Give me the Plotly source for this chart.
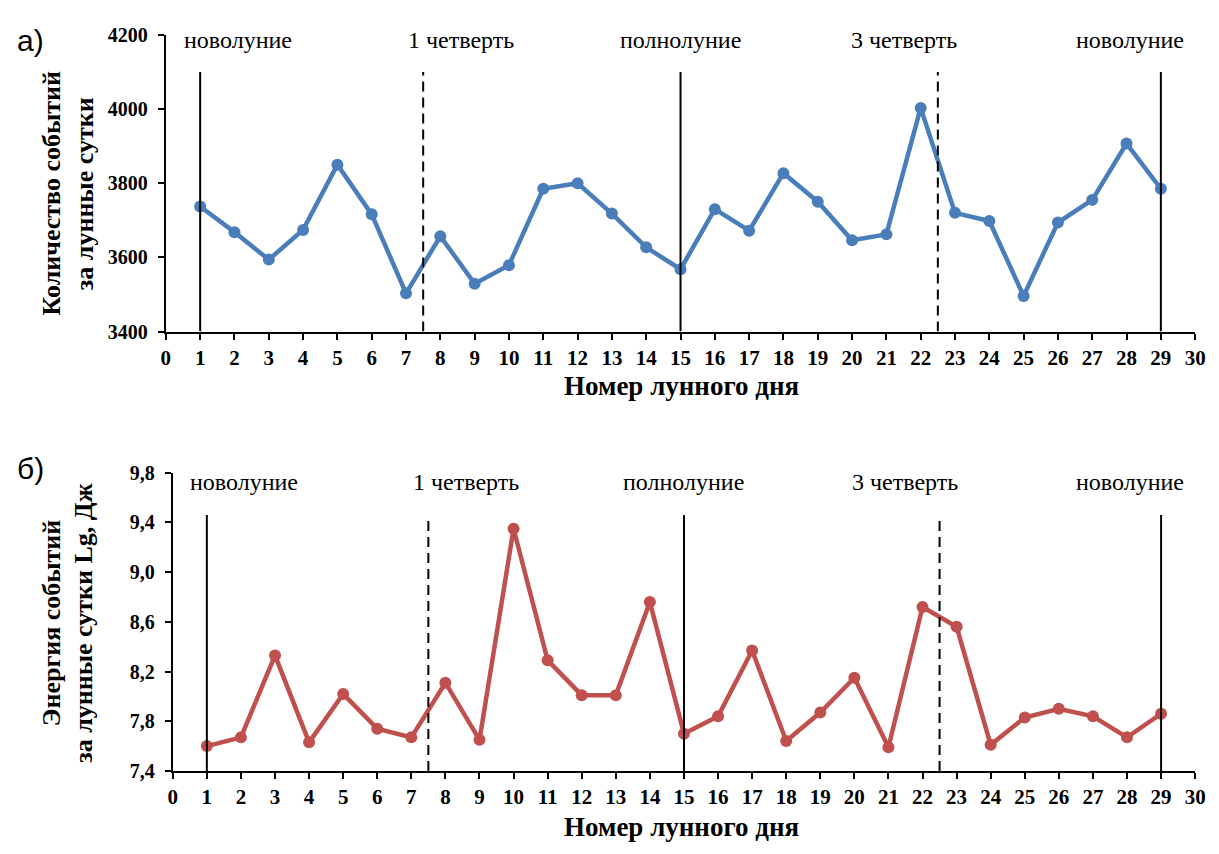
import plotly.graph_objects as go

W, H = 1219, 854

# Lunar day numbers and the two measured series
days = list(range(1, 30))
event_counts = [3737, 3668, 3594, 3674, 3850, 3716, 3503, 3657, 3529, 3579,
                3785, 3800, 3718, 3627, 3568, 3730, 3672, 3827, 3750, 3646,
                3662, 4003, 3720, 3698, 3496, 3694, 3755, 3907, 3785]
event_energy = [7.60, 7.67, 8.33, 7.63, 8.02, 7.74, 7.67, 8.11, 7.65, 9.35,
                8.29, 8.01, 8.01, 8.76, 7.70, 7.84, 8.37, 7.64, 7.87, 8.15,
                7.59, 8.72, 8.56, 7.61, 7.83, 7.90, 7.84, 7.67, 7.86]

# Moon phases: marker lines and their captions
phase_names = ["новолуние", "1 четверть", "полнолуние", "3 четверть", "новолуние"]
phase_label_x = [2.1, 8.6, 15.0, 21.5, 28.1]
phase_line_x = [1, 7.5, 15, 22.5, 29]
phase_line_dash = ["solid", "10px,6px", "solid", "10px,6px", "solid"]

# Tick labels
x_ticks = list(range(0, 31))
count_ticks = [3400, 3600, 3800, 4000, 4200]
energy_ticks = [7.4, 7.8, 8.2, 8.6, 9.0, 9.4, 9.8]
energy_tick_text = ["7,4", "7,8", "8,2", "8,6", "9,0", "9,4", "9,8"]

BLUE = "#4a7ebb"
RED = "#c0504d"
SERIF = "Liberation Serif"


def px(x):
    return x / W


def py(y):
    return 1 - y / H


fig = go.Figure()
fig.add_trace(go.Scatter(
    x=days, y=event_counts, mode="lines+markers", xaxis="x", yaxis="y",
    line=dict(color=BLUE, width=4.5), marker=dict(color=BLUE, size=12),
    showlegend=False))
fig.add_trace(go.Scatter(
    x=days, y=event_energy, mode="lines+markers", xaxis="x2", yaxis="y2",
    line=dict(color=RED, width=4.5), marker=dict(color=RED, size=12),
    showlegend=False))

axis_common = dict(showline=True, linecolor="black", linewidth=2,
                   ticks="outside", ticklen=6, tickwidth=2, tickcolor="black",
                   showgrid=False, zeroline=False)
x_tick_font = dict(family=SERIF, size=21, color="black", weight="bold")
y_tick_font = dict(family=SERIF, size=20, color="black", weight="bold")

fig.update_layout(
    width=W, height=H,
    margin=dict(l=0, r=0, t=0, b=0),
    paper_bgcolor="white", plot_bgcolor="white",
    xaxis=dict(domain=[px(163), px(1206)], range=[0, 30], anchor="y",
               tickvals=x_ticks, tickfont=x_tick_font, **axis_common),
    yaxis=dict(domain=[py(329), py(24.5)], range=[3400, 4200], anchor="x",
               tickvals=count_ticks, tickfont=y_tick_font,
               ticklabelstandoff=6, **axis_common),
    xaxis2=dict(domain=[px(170), px(1206)], range=[0, 30], anchor="y2",
                tickvals=x_ticks, tickfont=x_tick_font, **axis_common),
    yaxis2=dict(domain=[py(780), py(474)], range=[7.4, 9.8], anchor="x2",
                tickvals=energy_ticks, ticktext=energy_tick_text,
                tickfont=y_tick_font, ticklabelstandoff=6, **axis_common),
)

shapes = []
annotations = []
panels = [("x", "y", 3400, 4100, 4200, -5), ("x2", "y2", 7.4, 9.46, 9.8, -9)]
for xr, yr, y_bottom, line_top, label_y, shift in panels:
    for xv, dash in zip(phase_line_x, phase_line_dash):
        shapes.append(dict(type="line", xref=xr, yref=yr, x0=xv, x1=xv,
                           y0=y_bottom, y1=line_top,
                           line=dict(color="black", width=2, dash=dash)))
    for name, xv in zip(phase_names, phase_label_x):
        annotations.append(dict(xref=xr, yref=yr, x=xv, y=label_y, text=name,
                                showarrow=False, xanchor="center",
                                yanchor="middle", yshift=shift,
                                font=dict(family=SERIF, size=24, color="black")))

x_title_font = dict(family=SERIF, size=27, color="black", weight="bold")
y_title_font = dict(family=SERIF, size=26, color="black", weight="bold")
# x-axis titles
for yc in (385, 838):
    annotations.append(dict(xref="paper", yref="paper", x=px(686), y=py(yc),
                            text="Номер лунного дня", showarrow=False,
                            xanchor="center", yanchor="middle",
                            font=x_title_font))
# y-axis titles, two lines each
y_titles = [(["Количество событий", "за лунные сутки"], 187),
            (["Энергия событий", "за лунные сутки Lg, Дж"], 628)]
for lines, yc in y_titles:
    for text, xc in zip(lines, (47, 80)):
        annotations.append(dict(xref="paper", yref="paper", x=px(xc), y=py(yc),
                                text=text, textangle=-90, showarrow=False,
                                xanchor="center", yanchor="middle",
                                font=y_title_font))
# panel letters
for text, yc in (("а)", 30), ("б)", 470)):
    annotations.append(dict(xref="paper", yref="paper", x=px(26), y=py(yc),
                            text=text, showarrow=False,
                            xanchor="center", yanchor="middle",
                            font=dict(family="Liberation Sans", size=30,
                                      color="black")))

fig.update_layout(shapes=shapes, annotations=annotations)
fig.write_html("out.html")
